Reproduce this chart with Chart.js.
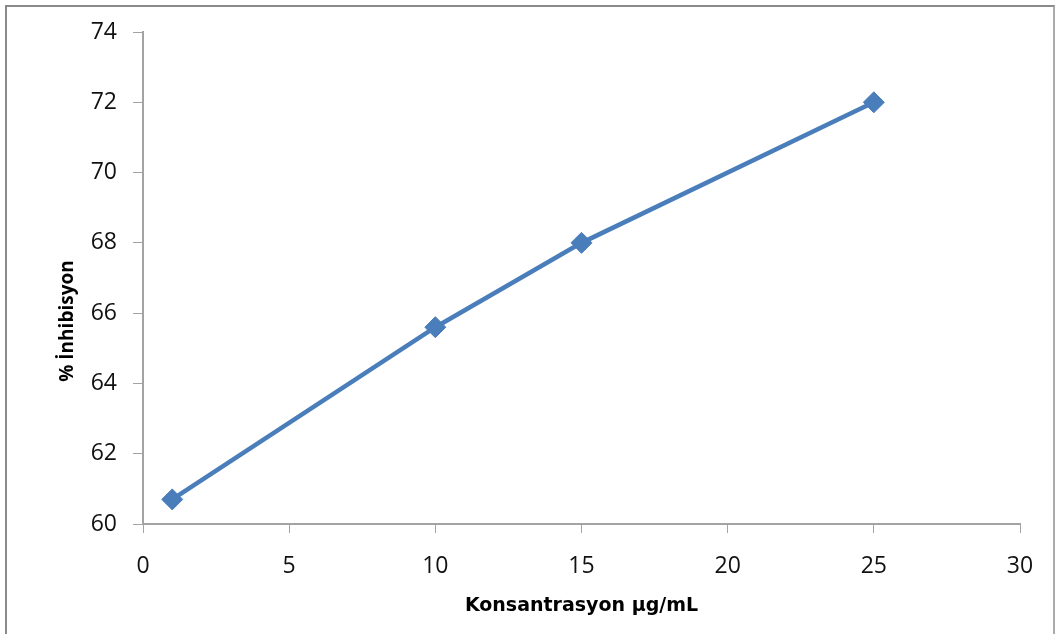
<!DOCTYPE html>
<html>
<head>
<meta charset="utf-8">
<script src="https://cdn.jsdelivr.net/npm/chart.js@4/dist/chart.umd.min.js"></script>
<style>
  html, body { margin: 0; padding: 0; background: #fff; }
  #wrap { position: relative; width: 1055px; height: 634px; overflow: hidden; }
  #frame {
    position: absolute; left: 5px; top: 5px; width: 1046px; height: 700px;
    border-left: 2px solid #8a8a8a; border-top: 2px solid #8a8a8a; border-right: 2px solid #ababab;
    pointer-events: none;
  }
</style>
</head>
<body>
<div id="wrap">
  <canvas id="grafik" width="1055" height="634"></canvas>
  <div id="frame"></div>
</div>
<script>
const konsantrasyon = [1, 10, 15, 25];
const inhibisyon = [60.7, 65.6, 68, 72];
const xBaslik = 'Konsantrasyon µg/mL';
const yBaslik = '% İnhibisyon';

const eksenRengi = '#a3a3a3';
const mavi = '#4a7ebb';

// y title is drawn by hand, it sits lower than the axis centre
const yBaslikPlugin = {
  id: 'yBaslik',
  afterDraw(chart) {
    const c = chart.ctx;
    c.save();
    c.translate(68, 321);
    c.rotate(-Math.PI / 2);
    c.font = 'bold 19px "Open Sans"';
    c.fillStyle = '#000';
    c.textAlign = 'center';
    c.textBaseline = 'middle';
    c.fillText(yBaslik, 0, 0);
    c.restore();
  }
};

new Chart(document.getElementById('grafik').getContext('2d'), {
  type: 'line',
  data: {
    datasets: [{
      data: konsantrasyon.map((x, i) => ({ x: x, y: inhibisyon[i] })),
      borderColor: mavi,
      backgroundColor: mavi,
      borderWidth: 4.5,
      pointStyle: 'rectRot',
      pointRadius: 10.5,
      pointBorderWidth: 1,
      pointBorderColor: mavi,
      pointBackgroundColor: mavi,
      tension: 0
    }]
  },
  options: {
    responsive: false,
    animation: false,
    layout: { padding: { top: 32, right: 35, bottom: 0, left: 0 } },
    plugins: { legend: { display: false }, tooltip: { enabled: false } },
    scales: {
      x: {
        type: 'linear',
        min: 0,
        max: 30,
        ticks: { stepSize: 5, padding: 20, color: '#111', font: { family: 'Open Sans', size: 23 } },
        grid: { drawOnChartArea: false, drawTicks: true, tickLength: 9, color: eksenRengi, tickColor: eksenRengi },
        border: { color: eksenRengi, width: 2 },
        title: { display: true, text: xBaslik, color: '#000', padding: { top: 0, bottom: 17 },
                 font: { family: 'DejaVu Sans', size: 19, weight: 'bold' } },
        afterFit(scale) { scale.height = 110; }
      },
      y: {
        min: 60,
        max: 74,
        ticks: { stepSize: 2, padding: 16, color: '#111', font: { family: 'Open Sans', size: 23 } },
        grid: { drawOnChartArea: false, drawTicks: true, tickLength: 10, color: eksenRengi, tickColor: eksenRengi },
        border: { color: eksenRengi, width: 2 },
        afterFit(scale) { scale.width = 143; }
      }
    }
  },
  plugins: [yBaslikPlugin]
});
</script>
</body>
</html>
